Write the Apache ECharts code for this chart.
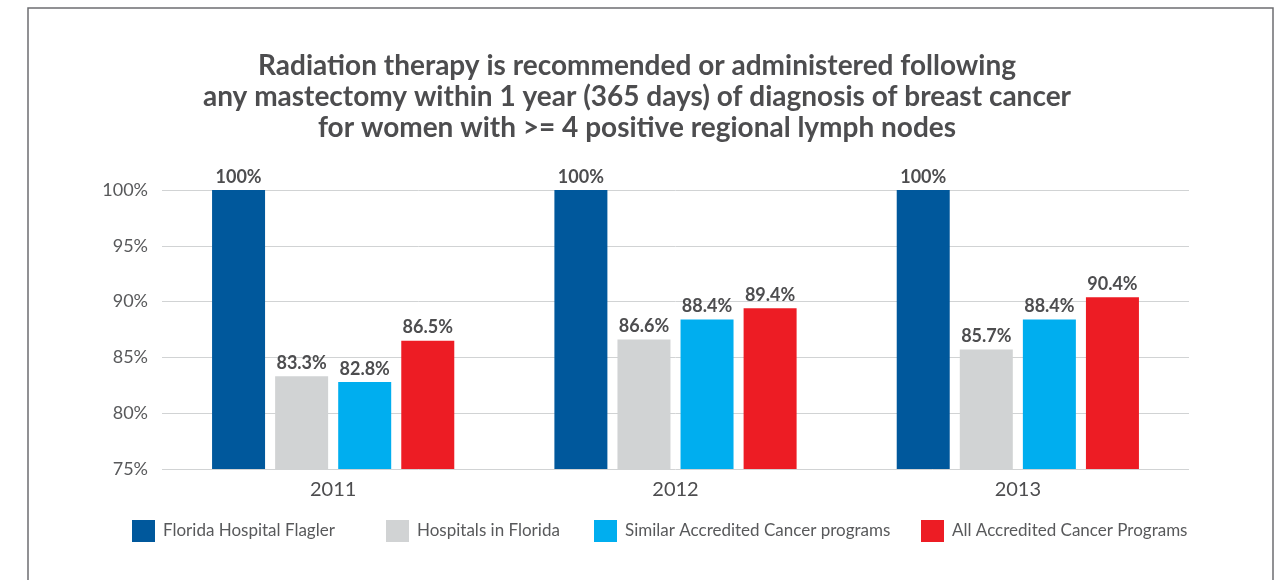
<!DOCTYPE html>
<html>
<head>
<meta charset="utf-8">
<script src="https://cdn.jsdelivr.net/npm/echarts@6/dist/echarts.min.js"></script>
<style>
html,body{margin:0;padding:0;background:#fff;}
#c{width:1281px;height:580px;}
</style>
</head>
<body>
<div id="c"></div>
<script>
const years = ['2011', '2012', '2013'];
const seriesNames = ['Florida Hospital Flagler', 'Hospitals in Florida', 'Similar Accredited Cancer programs', 'All Accredited Cancer Programs'];
const flagler = [100, 100, 100];
const hospitalsFlorida = [83.3, 86.6, 85.7];
const similarPrograms = [82.8, 88.4, 88.4];
const allPrograms = [86.5, 89.4, 90.4];
const yTicks = [75, 80, 85, 90, 95, 100];
const valueLabels = [
  ['100%', '100%', '100%'],
  ['83.3%', '86.6%', '85.7%'],
  ['82.8%', '88.4%', '88.4%'],
  ['86.5%', '89.4%', '90.4%']
];
const colors = ['#00589c', '#d1d3d4', '#00aeef', '#ed1c24'];
const seriesData = [flagler, hospitalsFlorida, similarPrograms, allPrograms];

const FONT = 'Lato, "Open Sans", sans-serif';
const chart = echarts.init(document.getElementById('c'), null, {renderer: 'canvas'});

const legendLefts = [132, 386, 594, 921];
const legends = seriesNames.map((n, i) => ({
  data: [n],
  left: legendLefts[i],
  top: 520,
  padding: 0,
  itemWidth: 23,
  itemHeight: 22,
  itemGap: 0,
  icon: 'rect',
  selectedMode: false,
  textStyle: {fontFamily: FONT, fontSize: 17, color: '#58595b', padding: [0, 0, 0, 3]}
}));

chart.setOption({
  animation: false,
  color: colors,
  title: {
    text: 'Radiation therapy is recommended or administered following\nany mastectomy within 1 year (365 days) of diagnosis of breast cancer\nfor women with >= 4 positive regional lymph nodes',
    left: 632,
    textAlign: 'center',
    top: 45,
    textStyle: {fontFamily: FONT, fontWeight: 'bold', fontSize: 28, lineHeight: 31, color: '#4d4d4f'}
  },
  graphic: [{
    type: 'rect',
    shape: {x: 28, y: 8, width: 1245, height: 620},
    style: {fill: 'none', stroke: '#6d6e71', lineWidth: 1.5},
    silent: true
  }],
  legend: legends,
  grid: {left: 162, right: 92, top: 190, bottom: 111, containLabel: false},
  xAxis: {
    type: 'category',
    data: years,
    axisLine: {show: false},
    axisTick: {show: false},
    axisLabel: {fontFamily: FONT, fontSize: 20, color: '#4d4d4f', margin: 11}
  },
  yAxis: {
    type: 'value',
    min: yTicks[0],
    max: yTicks[yTicks.length - 1],
    interval: 5,
    axisLine: {show: false},
    axisTick: {show: false},
    splitLine: {lineStyle: {color: '#d1d3d4', width: 1}},
    axisLabel: {fontFamily: FONT, fontSize: 18, color: '#58595b', margin: 14, formatter: v => v + '%'}
  },
  series: seriesNames.map((n, i) => ({
    name: n,
    type: 'bar',
    data: seriesData[i],
    barWidth: 53,
    barGap: '19%',
    itemStyle: {color: colors[i]},
    label: {
      show: true,
      position: 'top',
      distance: 4,
      fontFamily: FONT,
      fontWeight: 'bold',
      fontSize: 18,
      color: '#4d4d4f',
      formatter: p => valueLabels[i][p.dataIndex]
    }
  }))
});
</script>
</body>
</html>
